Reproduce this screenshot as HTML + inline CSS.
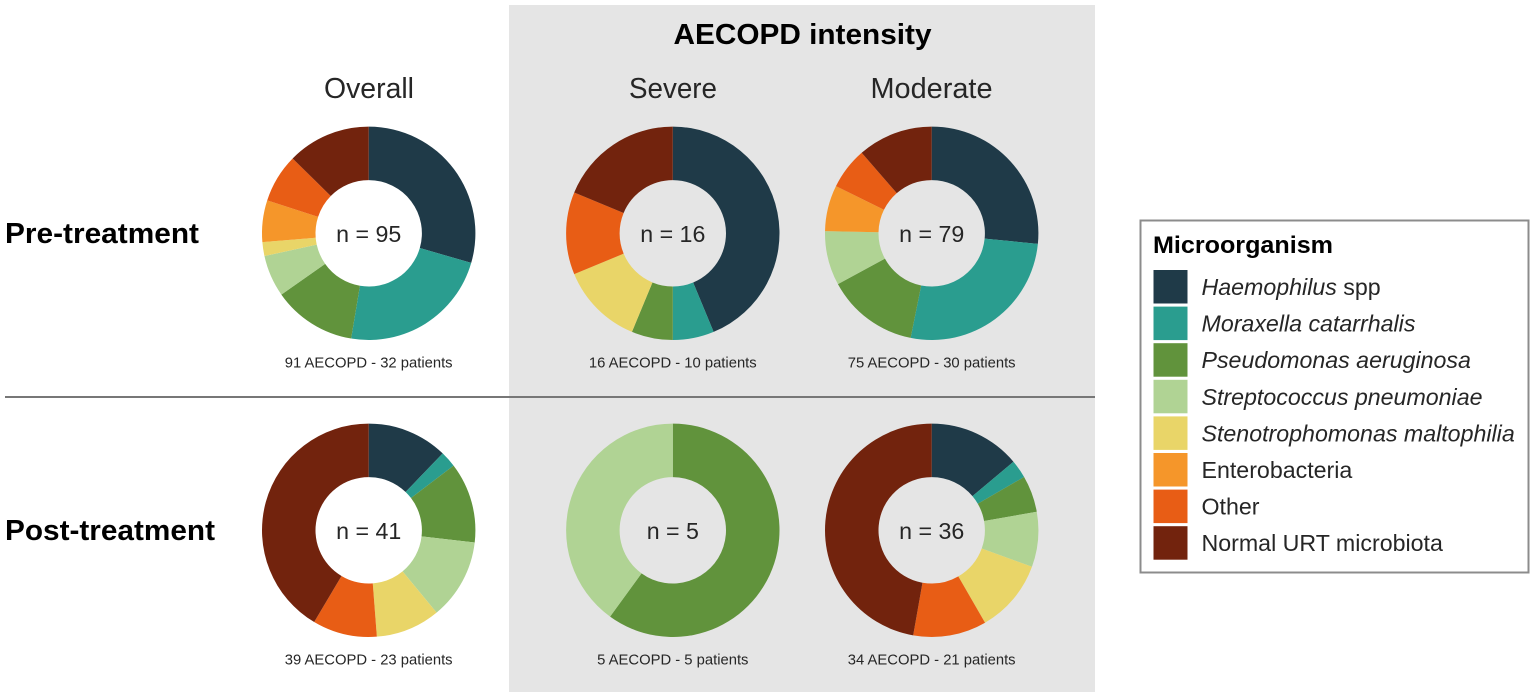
<!DOCTYPE html>
<html lang="en">
<head>
<meta charset="utf-8">
<title>AECOPD microorganism donut charts</title>
<style>
html,body{margin:0;padding:0;background:#fff;}
svg{display:block;font-family:"Liberation Sans",sans-serif;}
text{fill:#262626;}
.s0{fill:#1f3a48;}.s1{fill:#2a9d8f;}.s2{fill:#61933c;}.s3{fill:#b0d394;}
.s4{fill:#e9d568;}.s5{fill:#f5962a;}.s6{fill:#e85d15;}.s7{fill:#72230d;}
.head{font-size:29px;text-anchor:middle;}
.bold{font-weight:bold;fill:#000;}
.cap{font-size:14.8px;text-anchor:middle;}
.nlab{font-size:23.2px;text-anchor:middle;}
.leg{font-size:23.2px;}
</style>
</head>
<body>
<svg id="chart" xmlns="http://www.w3.org/2000/svg" width="1535" height="698" viewBox="0 0 1535 698">
  <rect x="0" y="0" width="1535" height="698" fill="#fff"/>
  <rect x="509" y="5" width="586" height="687" fill="#e5e5e5"/>
  <line x1="5" y1="397" x2="1095" y2="397" stroke="#777" stroke-width="2"/>
  <text class="head bold" x="802.5" y="44" textLength="258" lengthAdjust="spacingAndGlyphs">AECOPD intensity</text>
  <text class="head" x="369" y="98" textLength="90" lengthAdjust="spacingAndGlyphs">Overall</text>
  <text class="head" x="673" y="98" textLength="88" lengthAdjust="spacingAndGlyphs">Severe</text>
  <text class="head" x="931.5" y="98" textLength="122" lengthAdjust="spacingAndGlyphs">Moderate</text>
  <text class="bold" font-size="29" x="5" y="243" textLength="194" lengthAdjust="spacingAndGlyphs">Pre-treatment</text>
  <text class="bold" font-size="29" x="5" y="540" textLength="210" lengthAdjust="spacingAndGlyphs">Post-treatment</text>
  <g id="donuts"></g>
  <g>
    <rect x="1140.5" y="220.5" width="388" height="352" fill="#fff" stroke="#8c8c8c" stroke-width="2"/>
    <text class="bold" font-size="24" x="1153" y="253" textLength="180" lengthAdjust="spacingAndGlyphs">Microorganism</text>
    <g id="legend-entries"></g>
  </g>
</svg>
<script>
// Category order (slices run clockwise from 12 o'clock)
const categories = ["Haemophilus spp","Moraxella catarrhalis","Pseudomonas aeruginosa","Streptococcus pneumoniae","Stenotrophomonas maltophilia","Enterobacteria","Other","Normal URT microbiota"];

// Isolate counts per category
const preOverall   = [28, 22, 12, 6, 2, 6, 7, 12];
const preSevere    = [7, 1, 1, 0, 2, 0, 2, 3];
const preModerate  = [21, 21, 11, 6.5, 0, 5.5, 5, 9];
const postOverall  = [5, 1, 5, 5, 4, 0, 4, 17];
const postSevere   = [0, 0, 3, 2, 0, 0, 0, 0];
const postModerate = [5, 1, 2, 3, 4, 0, 4, 17];

// Printed labels
const nLabels = ["n = 95", "n = 16", "n = 79", "n = 41", "n = 5", "n = 36"];
const captions = ["91 AECOPD - 32 patients", "16 AECOPD - 10 patients", "75 AECOPD - 30 patients", "39 AECOPD - 23 patients", "5 AECOPD - 5 patients", "34 AECOPD - 21 patients"];

const NS = "http://www.w3.org/2000/svg";
const outerR = 106.7, innerR = 53.2;
function colX(c){ return c === 0 ? 368.7 : c === 1 ? 672.8 : 931.7; }
function rowY(r){ return r === 0 ? 233.3 : 530.3; }
function angleOf(v, total){ return v / total * 2 * Math.PI; }
function px(cx, r, a){ return cx + r * Math.sin(a); }
function py(cy, r, a){ return cy - r * Math.cos(a); }

function drawDonut(values, col, row, idx, slug){
  const cx = colX(col), cy = rowY(row);
  const total = values.reduce(function(a, b){ return a + b; }, 0);
  const group = document.createElementNS(NS, "g");
  
  
  let start = 0;
  values.forEach(function(v, i){
    if (v <= 0) return;
    const end = start + angleOf(v, total);
    const large = end - start > Math.PI ? 1 : 0;
    const d = "M" + px(cx, outerR, start) + " " + py(cy, outerR, start) +
      "A" + outerR + " " + outerR + " 0 " + large + " 1 " + px(cx, outerR, end) + " " + py(cy, outerR, end) +
      "L" + px(cx, innerR, end) + " " + py(cy, innerR, end) +
      "A" + innerR + " " + innerR + " 0 " + large + " 0 " + px(cx, innerR, start) + " " + py(cy, innerR, start) + "Z";
    const slice = document.createElementNS(NS, "path");
    slice.setAttribute("d", d);
    slice.setAttribute("class", "s" + i);
    
    
    group.appendChild(slice);
    start = end;
  });
  const nText = document.createElementNS(NS, "text");
  nText.setAttribute("class", "nlab");
  nText.setAttribute("x", cx);
  nText.setAttribute("y", cy + 8.5);
  nText.textContent = nLabels[idx];
  
  
  group.appendChild(nText);
  const cap = document.createElementNS(NS, "text");
  cap.setAttribute("class", "cap");
  cap.setAttribute("x", cx);
  cap.setAttribute("y", cy + 134);
  cap.textContent = captions[idx];
  
  
  group.appendChild(cap);
  document.getElementById("donuts").appendChild(group);
}

drawDonut(preOverall, 0, 0, 0, "pre-overall");
drawDonut(preSevere, 1, 0, 1, "pre-severe");
drawDonut(preModerate, 2, 0, 2, "pre-moderate");
drawDonut(postOverall, 0, 1, 3, "post-overall");
drawDonut(postSevere, 1, 1, 4, "post-severe");
drawDonut(postModerate, 2, 1, 5, "post-moderate");

// Legend
const legendRoot = document.getElementById("legend-entries");
categories.forEach(function(name, i){
  const y = 270 + i * 36.6;
  const entry = document.createElementNS(NS, "g");
  
  
  const sw = document.createElementNS(NS, "rect");
  sw.setAttribute("x", 1153.5);
  sw.setAttribute("y", y);
  sw.setAttribute("width", 34);
  sw.setAttribute("height", 33.5);
  sw.setAttribute("class", "s" + i);
  
  
  entry.appendChild(sw);
  const t = document.createElementNS(NS, "text");
  t.setAttribute("class", "leg");
  t.setAttribute("x", 1201.5);
  t.setAttribute("y", y + 25);
  
  
  if (i === 0) {
    const it = document.createElementNS(NS, "tspan");
    it.setAttribute("font-style", "italic");
    it.textContent = "Haemophilus";
    t.appendChild(it);
    t.appendChild(document.createTextNode(" spp"));
  } else {
    if (i < 5) t.setAttribute("font-style", "italic");
    t.textContent = name;
  }
  entry.appendChild(t);
  legendRoot.appendChild(entry);
});
</script>
</body>
</html>
